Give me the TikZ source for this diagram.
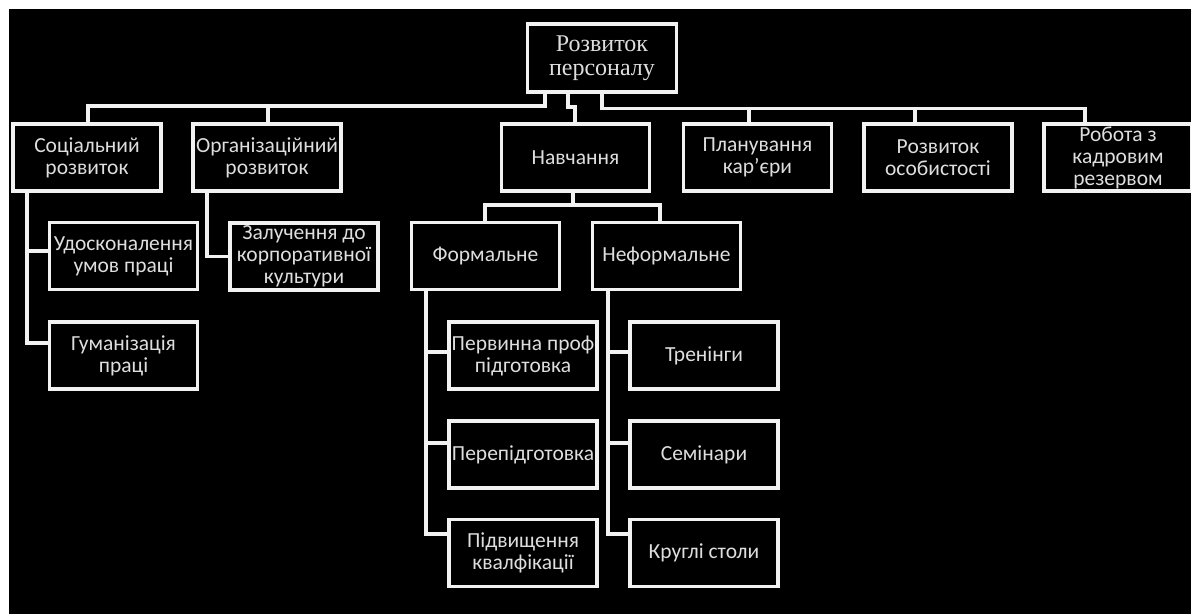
\documentclass[tikz,border=0pt]{standalone}
\usepackage{fontspec}
\setmainfont{Carlito}
\newfontfamily\rootfont{Liberation Serif}
\definecolor{textgray}{RGB}{222,222,222}
\definecolor{linewhite}{RGB}{242,242,242}
\begin{document}
\begin{tikzpicture}[x=1pt,y=-1pt,
  box/.style={draw=linewhite, line width=3.4pt, fill=black, text=textgray, align=center,
    inner sep=0pt, minimum width=148pt, minimum height=67pt,
    font=\fontsize{21.5}{22}\selectfont},
  conn/.style={draw=linewhite, line width=3.4pt}]
\useasboundingbox (0,0) rectangle (1191,613);
\fill[white] (0,0) rectangle (1191,613);
\fill[black] (9,9) rectangle (1195,617);

% nodes
\node[box, minimum width=149pt, minimum height=68pt, font=\rootfont\fontsize{24}{24}\selectfont] (root) at (602,58) {Розвиток\\персоналу};
\node[box] (soc) at (87,157.5) {Соціальний\\розвиток};
\node[box] (org) at (267,157.5) {Організаційний\\розвиток};
\node[box] (nav) at (575.5,157.5) {Навчання};
\node[box] (plan) at (757.5,157.5) {Планування\\кар\char39єри};
\node[box] (osob) at (938,157.5) {Розвиток\\особистості};
\node[box] (rob) at (1118,157.5) {Робота з\\кадровим\\резервом};
\node[box] (udos) at (123.5,256) {Удосконалення\\умов праці};
\node[box] (hum) at (123.5,355.5) {Гуманізація\\праці};
\node[box] (zal) at (304,256.5) {Залучення до\\корпоративної\\культури};
\node[box] (form) at (485.5,256) {Формальне};
\node[box] (neform) at (666.5,256) {Неформальне};
\node[box] (perv) at (523,355.5) {Первинна проф\\підготовка};
\node[box] (perep) at (523,454.5) {Перепідготовка};
\node[box] (pidv) at (523,553) {Підвищення\\квалфікації};
\node[box] (tren) at (704,355.5) {Тренінги};
\node[box] (sem) at (704,454.5) {Семінари};
\node[box] (krug) at (704,553) {Круглі столи};

% top level connectors
\draw[conn] (root.south -| 545,0) -- (545,106) -- (88,106) -- (soc.north -| 88,0);
\draw[conn] (268,106) -- (org.north -| 268,0);
\draw[conn] (root.south -| 568,0) -- (568,107) -| (nav.north -| 575,0);
\draw[conn] (root.south -| 602,0) -- (602,108.5) -- (1085,108.5) -- (rob.north -| 1085,0);
\draw[conn] (749,108.5) -- (plan.north -| 749,0);
\draw[conn] (915,108.5) -- (osob.north -| 915,0);

% social
\draw[conn] (soc.south -| 27,0) -- (27,343) -- (hum.west |- 0,343);
\draw[conn] (27,251) -- (udos.west |- 0,251);
% organisational
\draw[conn] (org.south -| 207,0) |- (zal.west);
% training
\draw[conn] (nav.south -| 573,0) -- (573,205);
\draw[conn] (form.north -| 485,0) |- (660,205) -- (neform.north -| 660,0);
% formal
\draw[conn] (form.south -| 426,0) -- (426,534) -- (pidv.west |- 0,534);
\draw[conn] (426,352) -- (perv.west |- 0,352);
\draw[conn] (426,443) -- (perep.west |- 0,443);
% informal
\draw[conn] (neform.south -| 608,0) -- (608,534) -- (krug.west |- 0,534);
\draw[conn] (608,352) -- (tren.west |- 0,352);
\draw[conn] (608,443) -- (sem.west |- 0,443);
\end{tikzpicture}
\end{document}
